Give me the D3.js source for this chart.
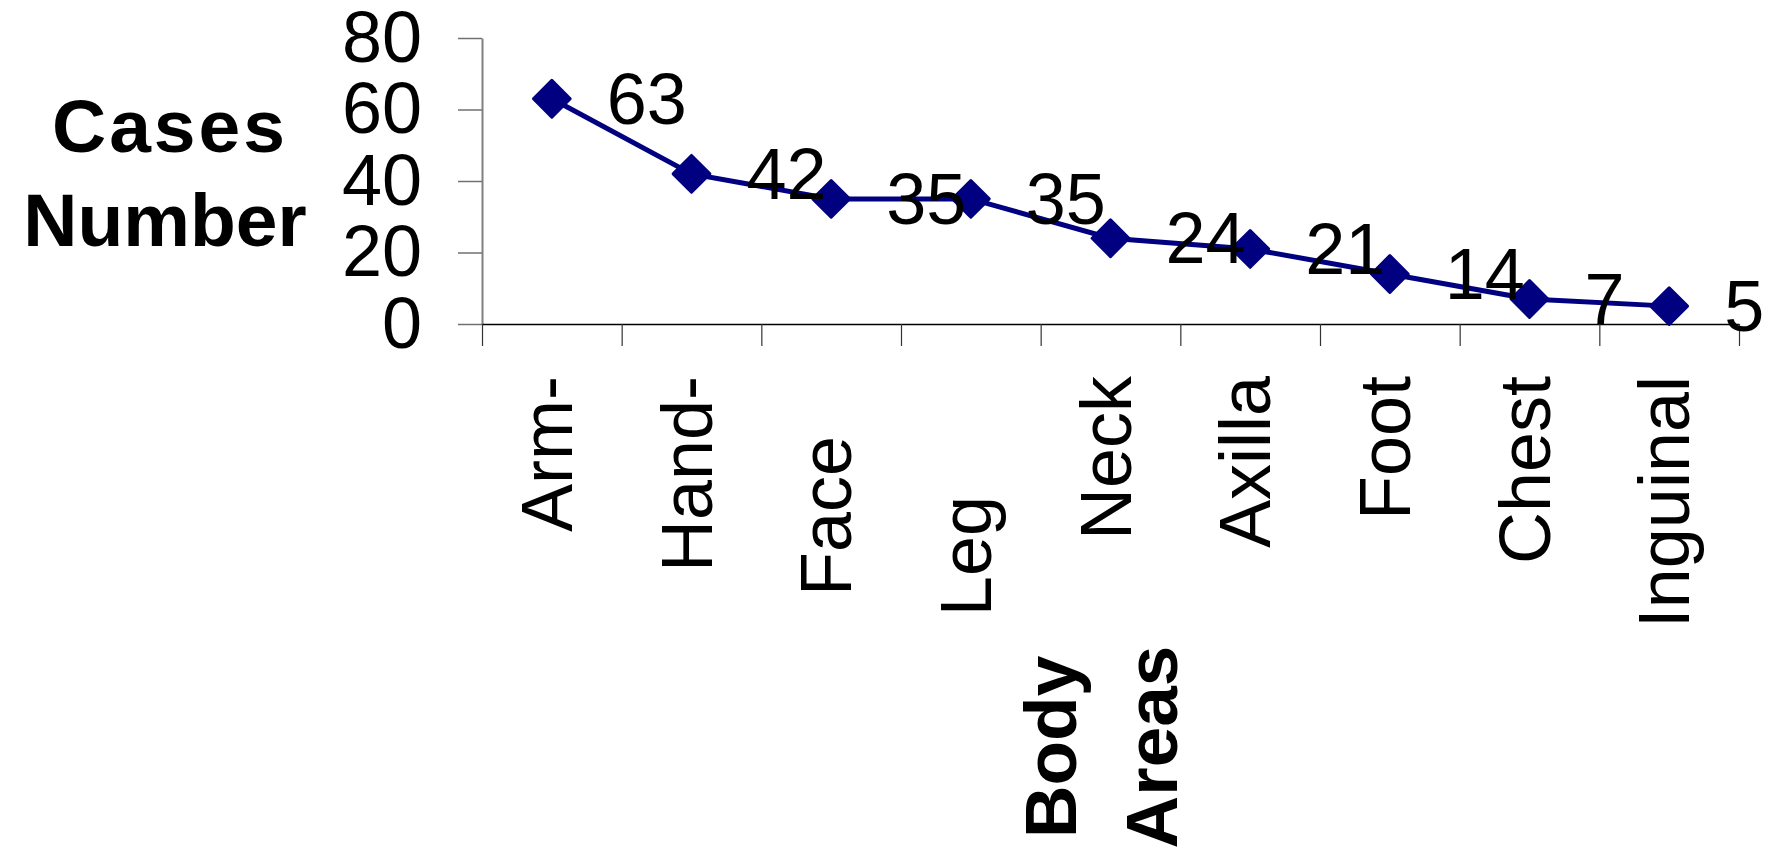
<!DOCTYPE html>
<html>
<head>
<meta charset="utf-8">
<script src="https://cdn.jsdelivr.net/npm/d3@7"></script>
<style>
	body { margin: 0; background: #fff; }
	text { font-family: "Liberation Sans", Arial, sans-serif; fill: #000; }
</style>
</head>
<body>
<div id="vis"></div>
<script>
// chart data
var categories = ["Arm-", "Hand-", "Face\u00A0\u00A0\u00A0", "Leg\u00A0\u00A0\u00A0\u00A0\u00A0\u00A0", "Neck", "Axilla", "Foot", "Chest", "Inguinal"];
var cases = [63, 42, 35, 35, 24, 21, 14, 7, 5];
var yTicks = [0, 20, 40, 60, 80];

var width = 1773, height = 850;
// plot area (note: "top" is taken by window.top)
var plotLeft = 482, plotRight = 1739, plotTop = 38, plotBottom = 324;

var svg = d3.select('#vis').append('svg')
	.attr('width', width)
	.attr('height', height);

// scales
var x = d3.scaleBand().domain(categories).range([plotLeft, plotRight]);
var xEdge = d3.scaleLinear().domain([0, categories.length]).range([plotLeft, plotRight]);
var y = d3.scaleLinear().domain([0, 80]).range([plotBottom, plotTop]);

function cx(d, i) { return x(categories[i]) + x.bandwidth() / 2; }

// y axis
var yAxis = svg.append('g')
	.attr('transform', 'translate(' + plotLeft + ',0)')
	.call(d3.axisLeft(y).tickValues(yTicks).tickSize(24).tickSizeOuter(0).tickPadding(36));
yAxis.select('.domain').attr('stroke', '#808080').attr('stroke-width', 2);
yAxis.selectAll('.tick line').attr('stroke', '#707070').attr('stroke-width', 1.5);
yAxis.selectAll('.tick text')
	.style('font-size', '72px')
	.attr('font-family', null);

// x axis, ticks between categories
var xAxis = svg.append('g')
	.attr('transform', 'translate(0,' + plotBottom + ')')
	.call(d3.axisBottom(xEdge).tickValues(d3.range(categories.length + 1)).tickSize(22).tickSizeOuter(0).tickFormat(''));
xAxis.select('.domain').attr('stroke', '#000').attr('stroke-width', 1.5);
xAxis.selectAll('.tick line').attr('stroke', '#333').attr('stroke-width', 1.2);

// category labels
svg.selectAll('text.cat').data(categories).enter()
	.append('text')
	.attr('class', 'cat')
	.attr('transform', function(d, i) { return 'translate(' + (cx(d, i) + 20) + ',376) rotate(-90)'; })
	.attr('text-anchor', 'end')
	.style('font-size', '72px')
	.text(function(d) { return d; });

// axis titles
svg.append('text')
	.attr('x', 170).attr('y', 152)
	.attr('text-anchor', 'middle')
	.style('font-size', '75px').style('font-weight', 'bold')
	.style('letter-spacing', '3px')
	.text('Cases');
svg.append('text')
	.attr('x', 165).attr('y', 246)
	.attr('text-anchor', 'middle')
	.style('font-size', '75px').style('font-weight', 'bold')
	.text('Number');

svg.append('text')
	.attr('transform', 'translate(1076,747) rotate(-90)')
	.attr('text-anchor', 'middle')
	.style('font-size', '73px').style('font-weight', 'bold')
	.text('Body');
svg.append('text')
	.attr('transform', 'translate(1177,747) rotate(-90)')
	.attr('text-anchor', 'middle')
	.style('font-size', '73px').style('font-weight', 'bold')
	.text('Areas');

// the line
var line = d3.line()
	.x(function(d, i) { return cx(d, i); })
	.y(function(d) { return y(d); });

svg.append('path')
	.datum(cases)
	.attr('d', line)
	.attr('fill', 'none')
	.attr('stroke', '#000080')
	.attr('stroke-width', 5);

// diamond markers
svg.selectAll('path.marker').data(cases).enter()
	.append('path')
	.attr('class', 'marker')
	.attr('d', d3.symbol().type(d3.symbolSquare).size(26 * 26))
	.attr('transform', function(d, i) { return 'translate(' + cx(d, i) + ',' + y(d) + ') rotate(45)'; })
	.attr('fill', '#000080')
	.attr('stroke', '#000080')
	.attr('stroke-width', 3)
	.attr('stroke-linejoin', 'round');

// value labels
svg.selectAll('text.val').data(cases).enter()
	.append('text')
	.attr('class', 'val')
	.attr('x', function(d, i) { return cx(d, i) + 55; })
	.attr('y', function(d) { return y(d); })
	.attr('dy', '0.35em')
	.style('font-size', '72px')
	.text(function(d) { return d; });
</script>
</body>
</html>
